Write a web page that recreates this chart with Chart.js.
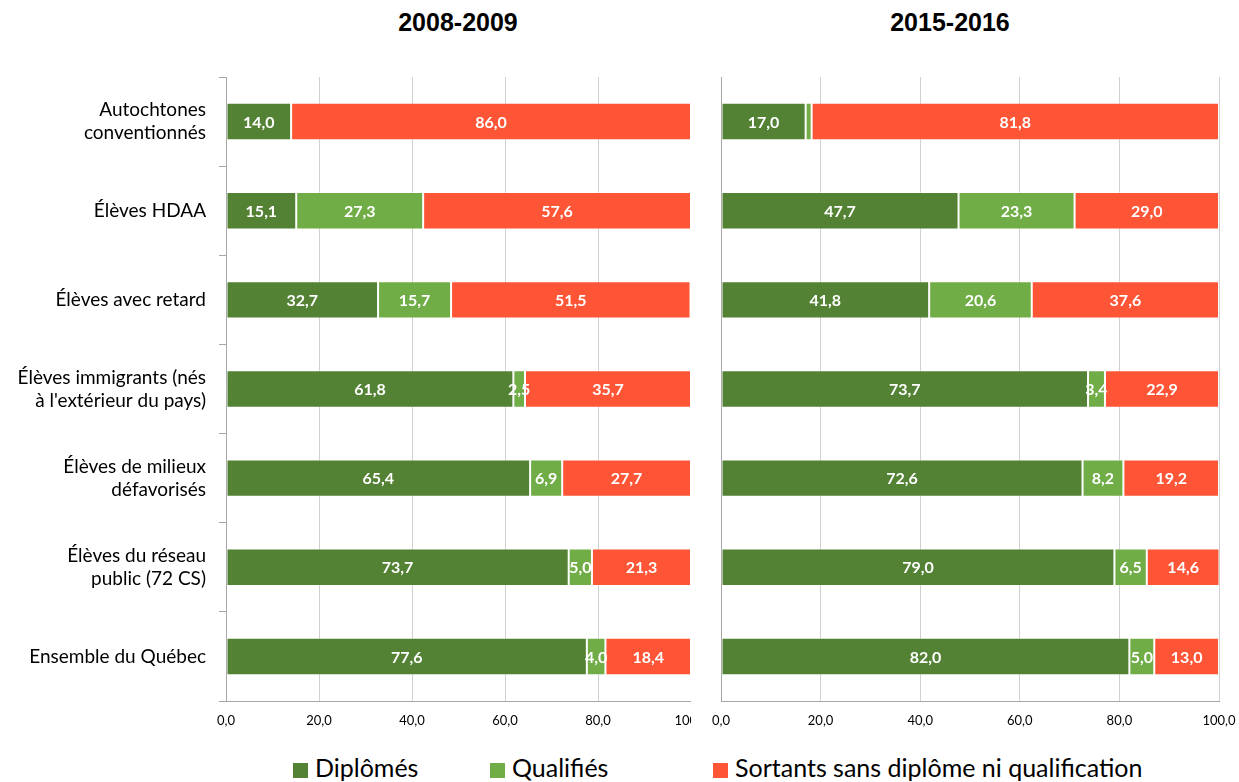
<!DOCTYPE html>
<html><head><meta charset="utf-8">
<script src="https://cdn.jsdelivr.net/npm/chart.js@4/dist/chart.umd.min.js"></script>
<style>
html,body{margin:0;padding:0;background:#fff;width:1239px;height:782px;overflow:hidden;position:relative;}
.cv{position:absolute;}
.title{position:absolute;top:8px;font:bold 25px "Liberation Sans",Arial,sans-serif;color:#000;transform:translateX(-50%);white-space:nowrap;}
.leg{position:absolute;top:755px;font:25px Lato,sans-serif;color:#000;white-space:nowrap;line-height:24px;}
.sq{position:absolute;top:763px;width:15px;height:15px;}
</style></head>
<body>
<div class="title" style="left:458px">2008-2009</div>
<div class="title" style="left:950px">2015-2016</div>
<div class="cv" style="left:0;top:0;width:691px;height:745px;"><canvas id="c1"></canvas></div>
<div class="cv" style="left:700px;top:0;width:539px;height:745px;"><canvas id="c2"></canvas></div>
<div class="sq" style="left:293px;background:#538234"></div><div class="leg" style="left:315px">Diplômés</div>
<div class="sq" style="left:490px;background:#70AD47"></div><div class="leg" style="left:512px">Qualifiés</div>
<div class="sq" style="left:713px;background:#FF5537"></div><div class="leg" style="left:735px">Sortants sans diplôme ni qualification</div>
<script>
const categories = [
  ["Autochtones","conventionnés"],
  "Élèves HDAA",
  "Élèves avec retard",
  ["Élèves immigrants (nés","à l'extérieur du pays)"],
  ["Élèves de milieux","défavorisés"],
  ["Élèves du réseau","public (72 CS)"],
  "Ensemble du Québec"
];
const seriesNames = ["Diplômés","Qualifiés","Sortants sans diplôme ni qualification"];
const diplomes2008 = [14.0, 15.1, 32.7, 61.8, 65.4, 73.7, 77.6];
const qualifies2008 = [0, 27.3, 15.7, 2.5, 6.9, 5.0, 4.0];
const sortants2008 = [86.0, 57.6, 51.5, 35.7, 27.7, 21.3, 18.4];
const diplomes2015 = [17.0, 47.7, 41.8, 73.7, 72.6, 79.0, 82.0];
const qualifies2015 = [1.2, 23.3, 20.6, 3.4, 8.2, 6.5, 5.0];
const sortants2015 = [81.8, 29.0, 37.6, 22.9, 19.2, 14.6, 13.0];
const xTicks = [0, 20, 40, 60, 80, 100];

const colors = ["#538234", "#70AD47", "#FF5537"];
const fmt = v => Number(v).toFixed(1).replace('.', ',');

const labelPlugin = {
  id: 'segLabels',
  afterDatasetsDraw(chart) {
    const ctx = chart.ctx;
    ctx.save();
    ctx.font = 'bold 16px Lato, sans-serif';
    ctx.fillStyle = '#fff';
    ctx.textAlign = 'center';
    ctx.textBaseline = 'middle';
    chart.data.datasets.forEach((ds, di) => {
      const meta = chart.getDatasetMeta(di);
      meta.data.forEach((el, i) => {
        const v = ds.data[i];
        if (v < 2) return;
        const cx = (el.x + el.base) / 2;
        ctx.fillText(fmt(v), cx, el.y + 1);
      });
    });
    ctx.restore();
  }
};

function makeChart(id, d, q, s, showLabels, yWidth) {
  const sets = [d, q, s].map((arr, k) => ({
    label: seriesNames[k],
    data: arr,
    backgroundColor: colors[k],
    borderColor: 'rgba(255,255,255,0.35)',
    borderWidth: 1,
    borderSkipped: false,
    categoryPercentage: 1,
    barPercentage: 0.42
  }));
  return new Chart(document.getElementById(id), {
    type: 'bar',
    data: { labels: categories, datasets: sets },
    plugins: [labelPlugin],
    options: {
      indexAxis: 'y',
      responsive: true,
      maintainAspectRatio: false,
      animation: false,
      layout: { padding: { top: 77, right: showLabels ? 0 : 20, left: 0, bottom: 0 } },
      plugins: { legend: { display: false }, tooltip: { enabled: false } },
      scales: {
        x: {
          stacked: true, min: 0, max: 100,
          afterBuildTicks: sc => { sc.ticks = xTicks.map(v => ({ value: v })); },
          ticks: { callback: v => fmt(v), font: { family: 'Lato, sans-serif', size: 13 }, color: '#000', padding: 12, maxRotation: 0 },
          grid: { color: '#D0D0D0', drawTicks: false },
          border: { color: '#A6A6A6' },
          afterFit: sc => { sc.height = 44; sc.paddingLeft = 0; sc.paddingRight = 0; }
        },
        y: {
          stacked: true,
          ticks: { display: showLabels, font: { family: 'Lato, sans-serif', size: 19, lineHeight: 1.2 }, color: '#000', padding: 13 },
          grid: { display: showLabels, drawOnChartArea: false, drawTicks: true, tickLength: 7, color: '#A6A6A6', offset: true },
          border: { color: '#A6A6A6' },
          afterFit: sc => { sc.width = yWidth; sc.paddingTop = 0; sc.paddingBottom = 0; }
        }
      }
    }
  });
}
makeChart('c1', diplomes2008, qualifies2008, sortants2008, true, 226);
makeChart('c2', diplomes2015, qualifies2015, sortants2015, false, 21);
</script>
</body></html>
